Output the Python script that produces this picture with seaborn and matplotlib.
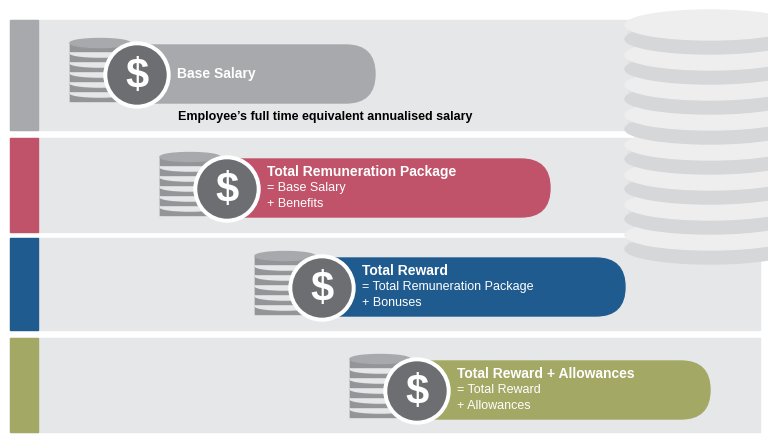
import matplotlib
matplotlib.use("Agg")
import matplotlib.pyplot as plt
import seaborn as sns
from matplotlib.patches import FancyBboxPatch, Ellipse, Circle, Rectangle

sns.set_theme(style="white")

titles = ["Base Salary", "Total Remuneration Package", "Total Reward", "Total Reward + Allowances"]
sublines = [[], ["= Base Salary", "+ Benefits"], ["= Total Remuneration Package", "+ Bonuses"],
            ["= Total Reward", "+ Allowances"]]
bar_start = [110, 200, 295, 390]
bar_end = [375, 550, 625, 710]
colors = ["#a7a9ac", "#c0536a", "#1f5b8e", "#a3a865"]
band_top = [20, 138, 238, 338]
band_bottom = [130, 232, 330, 432]
bar_center = [74, 188, 287, 390]
note = "Employee\u2019s full time equivalent annualised salary"

fig = plt.figure(figsize=(7.68, 4.48), dpi=100)
ax = fig.add_axes([0, 0, 1, 1])
ax.set_xlim(0, 768); ax.set_ylim(448, 0); ax.axis("off")

for i in range(4):
    ax.add_patch(Rectangle((10, band_top[i]), 750, band_bottom[i]-band_top[i], color="#e6e7e8", zorder=1))
for yc in [235, 205, 175, 145, 115, 85, 55, 25]:
    ax.add_patch(Rectangle((628, yc), 160, 14, color="#e1e2e3", zorder=2))
    ax.add_patch(Ellipse((710, yc+14), 170, 30, color="#d6d7d9", zorder=2))
    ax.add_patch(Ellipse((710, yc), 170, 30, color="#eeeeef", zorder=2))
for i in range(4):
    ax.add_patch(Rectangle((10, band_top[i]), 28, band_bottom[i]-band_top[i], color=colors[i], zorder=3))

for i in range(4):
    yc = bar_center[i]
    h = 58
    ax.add_patch(FancyBboxPatch((bar_start[i], yc-h/2), bar_end[i]-bar_start[i], h,
                                boxstyle="round,pad=0,rounding_size=29", color=colors[i], zorder=4))
    cx = bar_start[i] - 10
    for j in range(6):
        cy = yc + 24 - j*10
        ax.add_patch(Rectangle((cx-30, cy-5), 60, 10, color="#939598", zorder=5))
        ax.add_patch(Ellipse((cx, cy+5), 60, 8, color="#e6e7e8", zorder=5))
        ax.add_patch(Rectangle((cx-30, cy-5), 60, 8, color="#939598", zorder=5))
        ax.add_patch(Ellipse((cx, cy-5), 60, 9, color="#a7a9ac", zorder=5))
    ccx = bar_start[i] + 27
    ax.add_patch(Circle((ccx, yc+1), 33, color="white", zorder=6))
    ax.add_patch(Circle((ccx, yc+1), 29, color="#6d6e71", zorder=7))
    ax.text(ccx, yc+3, "$", color="white", fontsize=30, ha="center", va="center", zorder=8,
            family="Liberation Sans", fontweight="bold")
    tx = ccx + 40
    if sublines[i]:
        ax.text(tx, yc-16, titles[i], color="white", fontsize=10, fontweight="bold", va="center", zorder=8,
                family="Liberation Sans")
        for k, s in enumerate(sublines[i]):
            ax.text(tx, yc + k*16, s, color="white", fontsize=9, va="center", zorder=8, family="Liberation Sans")
    else:
        ax.text(tx, yc, titles[i], color="white", fontsize=10, fontweight="bold", va="center", zorder=8,
                family="Liberation Sans")

ax.text(178, 117, note, fontsize=9, fontweight="bold", color="black", va="center", zorder=8,
        family="Liberation Sans")
fig.savefig("out.png", dpi=100)
